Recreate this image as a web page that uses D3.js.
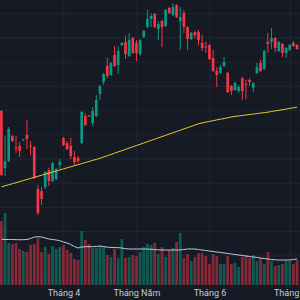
<!DOCTYPE html>
<html>
<head>
<meta charset="utf-8">
<script src="https://cdn.jsdelivr.net/npm/d3@7"></script>
<style>
  html, body { margin: 0; padding: 0; background: #161a25; }
  svg { display: block; }
  .grid line { stroke: #222632; stroke-width: 1; }
  .grid path { display: none; }
</style>
</head>
<body>
<div id="chart"></div>
<script>
// daily bars, left to right
const opens = [18.9, 13.2, 13.9, 16.4, 15.25, 15.4, 15.95, 16.5, 15.45, 15.3,
    11.1, 10.9, 11.3, 13.0, 11.9, 12.1, 13.5, 16.2, 15.7, 15.4,
    14.3, 14.2, 15.7, 18.4, 18.45, 17.7, 18.4, 20.6, 21.8, 23.4,
    22.5, 24.5, 23.5, 25.5, 25.8, 24.4, 26.2, 25.7, 24.6, 26.3,
    27.3, 28.1, 28.6, 27.1, 27.9, 27.4, 29.2, 28.5, 29.5, 27.9,
    28.7, 27.3, 26.1, 26.8, 26.8, 25.7, 25.35, 25.5, 24.2, 22.9,
    22.7, 23.4, 22.7, 21.4, 21.0, 20.9, 22.2, 21.6, 22.0, 21.2,
    22.7, 23.7, 23.1, 25.8, 25.8, 26.2, 24.9, 25.6, 24.7, 25.0,
    25.7, 25.5];
const highs = [19.0, 16.4, 17.3, 16.5, 16.4, 15.8, 16.1, 18.0, 15.9, 15.4,
    11.5, 11.3, 12.9, 13.2, 13.8, 13.2, 14.1, 16.3, 15.9, 16.2,
    14.9, 14.4, 18.9, 18.7, 18.5, 19.3, 20.5, 21.5, 22.7, 24.2,
    23.8, 25.4, 25.4, 25.8, 26.4, 26.7, 26.3, 26.0, 26.1, 27.0,
    29.0, 28.7, 28.7, 27.9, 28.0, 29.1, 29.3, 29.7, 29.6, 29.3,
    29.0, 27.4, 26.8, 26.9, 27.0, 26.5, 25.8, 25.6, 25.0, 23.3,
    23.5, 24.3, 22.8, 21.5, 21.8, 21.5, 22.3, 22.0, 22.2, 21.8,
    23.7, 24.0, 25.0, 26.7, 27.2, 26.3, 25.9, 25.7, 25.3, 25.6,
    25.9, 25.6];
const lows = [12.4, 12.4, 13.8, 15.8, 14.7, 14.3, 15.9, 15.1, 14.5, 12.1,
    8.5, 9.5, 11.1, 11.4, 11.8, 12.0, 13.1, 15.4, 15.0, 14.1,
    13.5, 13.7, 15.6, 17.4, 18.3, 17.4, 18.3, 20.0, 21.5, 22.2,
    22.4, 23.3, 22.6, 25.4, 24.1, 24.3, 24.6, 23.9, 24.4, 26.2,
    27.2, 27.3, 27.2, 26.0, 25.3, 27.3, 28.6, 28.4, 28.2, 25.0,
    26.7, 25.0, 26.0, 26.2, 25.5, 24.9, 24.7, 24.0, 22.8, 21.3,
    22.6, 23.3, 20.7, 20.5, 20.9, 20.7, 20.0, 20.1, 21.4, 20.8,
    22.6, 22.8, 23.0, 24.7, 25.1, 24.8, 24.8, 24.3, 24.2, 24.9,
    25.3, 25.0];
const closes = [12.5, 13.9, 17.1, 15.9, 15.15, 14.9, 16.05, 16.1, 15.35, 12.2,
    8.7, 10.1, 12.8, 11.9, 13.7, 13.1, 13.8, 15.5, 15.1, 14.4,
    13.8, 13.9, 18.8, 17.5, 18.35, 18.9, 20.0, 21.4, 22.6, 22.4,
    23.7, 23.4, 24.9, 25.7, 24.6, 26.0, 24.7, 24.7, 26.0, 26.9,
    28.1, 28.4, 27.3, 27.6, 27.3, 29.0, 28.7, 29.3, 28.3, 28.3,
    27.3, 26.1, 26.7, 26.5, 26.0, 25.2, 25.25, 24.1, 22.9, 22.5,
    23.3, 23.8, 20.8, 20.9, 21.7, 21.3, 20.9, 21.5, 21.8, 21.7,
    23.3, 22.9, 24.9, 25.6, 26.2, 25.2, 25.8, 24.7, 25.2, 25.5,
    25.4, 25.1];
const volumes = [64, 72, 42, 41, 42, 36, 34, 33, 40, 41,
    47, 33, 38, 31, 39, 36, 38, 40, 35, 32,
    26, 25, 54, 45, 41, 37, 37, 39, 39, 30,
    28, 36, 27, 46, 27, 28, 30, 29, 33, 38,
    41, 40, 42, 31, 38, 28, 35, 37, 43, 52,
    27, 31, 24, 28, 32, 32, 29, 21, 31, 29,
    21, 21, 29, 21, 22, 18, 28, 30, 27, 30,
    24, 27, 21, 33, 24, 19, 20, 21, 24, 24,
    21, 25];
// long moving average of price (yellow)
const priceMA = [11.31, 11.42, 11.52, 11.63, 11.73, 11.84, 11.95, 12.05, 12.16, 12.26,
    12.37, 12.48, 12.58, 12.69, 12.79, 12.90, 13.00, 13.11, 13.22, 13.32,
    13.43, 13.53, 13.64, 13.75, 13.85, 13.96, 14.06, 14.17, 14.30, 14.42,
    14.55, 14.68, 14.81, 14.93, 15.06, 15.19, 15.32, 15.45, 15.57, 15.70,
    15.83, 15.96, 16.08, 16.21, 16.34, 16.47, 16.60, 16.72, 16.85, 16.98,
    17.11, 17.23, 17.36, 17.49, 17.62, 17.71, 17.79, 17.86, 17.93, 18.01,
    18.08, 18.15, 18.22, 18.30, 18.36, 18.41, 18.45, 18.50, 18.55, 18.59,
    18.64, 18.69, 18.74, 18.78, 18.85, 18.91, 18.97, 19.03, 19.09, 19.16,
    19.22, 19.28];
// moving average of volume
const volumeMA = [45.8, 45.5, 45.5, 45.5, 45.3, 45.3, 45.3, 45.5, 46.5, 48,
    48.3, 48, 47, 46, 45.5, 45, 44.3, 43, 42, 40.5,
    38.5, 37, 38, 38.3, 38.3, 38.3, 38.5, 39, 38.5, 37.8,
    37.6, 37.5, 37.3, 37, 36.3, 36, 36, 36, 36, 36,
    36, 35.7, 35.5, 35.2, 35, 35, 35, 35, 35, 35,
    35.5, 36, 36, 36, 35.5, 35, 34.5, 34, 33.5, 33,
    32.6, 32, 31.5, 31, 30.5, 30, 29.5, 29, 28.5, 28,
    27.6, 27, 26.5, 26, 25.5, 25.2, 25, 25, 25, 25,
    25.5, 26];
// first bar of each month
const monthTickIdx = [17, 37, 57, 79];
const monthTickLabels = ["Tháng 4", "Tháng Năm", "Tháng 6", "Tháng 7"];
const gridPrices = [28.67, 26.25, 23.83, 21.41, 18.99, 16.57, 14.15, 11.73, 9.31, 6.89, 4.47, 2.05];

const upColor = "#089981";
const downColor = "#f23645";
const width = 300, height = 300;
const plotBottom = 285;
const barStep = 3.65;

let svg = d3.select("#chart").append("svg")
    .attr("width", width)
    .attr("height", height);

svg.append("rect")
    .attr("width", width)
    .attr("height", height)
    .attr("fill", "#161a25");

let x = d3.scaleLinear()
    .domain([0, opens.length - 1])
    .range([1.4, 1.4 + barStep * (opens.length - 1)]);
let y = d3.scaleLinear().domain([1.5, 30]).range([plotBottom, 0]);
let yVol = d3.scaleLinear().domain([0, 100]).range([plotBottom, plotBottom - 100]);

// Horizontal grid.
svg.append("g")
    .attr("class", "grid")
    .call(d3.axisLeft(y).tickValues(gridPrices).tickSize(-width).tickFormat(""));

// Month grid + labels.
let xAxis = svg.append("g")
    .attr("class", "grid")
    .attr("transform", "translate(0," + plotBottom + ")")
    .call(d3.axisBottom(x)
        .tickValues(monthTickIdx)
        .tickSize(-plotBottom)
        .tickPadding(4.5)
        .tickFormat((d, i) => monthTickLabels[i]));
xAxis.selectAll("text")
    .attr("fill", "#c9ccd4")
    .style("font-family", "Roboto, 'Noto Sans', sans-serif")
    .style("font-size", "9px");

let idx = d3.range(opens.length);
let isUp = i => closes[i] >= opens[i];

// Volume.
svg.append("g").selectAll("rect")
    .data(idx)
    .enter().append("rect")
    .attr("x", i => x(i) - 1.4)
    .attr("width", 2.8)
    .attr("y", i => yVol(volumes[i]))
    .attr("height", i => plotBottom - yVol(volumes[i]))
    .attr("fill", i => isUp(i) ? upColor : downColor)
    .attr("fill-opacity", 0.5);

svg.append("path")
    .datum(idx)
    .attr("fill", "none")
    .attr("stroke", "#b4cbe8")
    .attr("stroke-width", 1)
    .attr("d", d3.line().x(i => x(i)).y(i => yVol(volumeMA[i])));

// Candles.
let candles = svg.append("g").selectAll("g")
    .data(idx)
    .enter().append("g");

candles.append("line")
    .attr("x1", i => x(i))
    .attr("x2", i => x(i))
    .attr("y1", i => y(highs[i]))
    .attr("y2", i => y(lows[i]))
    .attr("stroke", i => isUp(i) ? upColor : downColor)
    .attr("stroke-width", 1);

candles.append("rect")
    .attr("x", i => x(i) - 1.35)
    .attr("width", 2.7)
    .attr("y", i => y(Math.max(opens[i], closes[i])))
    .attr("height", i => Math.max(1, Math.abs(y(opens[i]) - y(closes[i]))))
    .attr("fill", i => isUp(i) ? upColor : downColor);

// Price MA.
svg.append("path")
    .datum(idx)
    .attr("fill", "none")
    .attr("stroke", "#e2cc2f")
    .attr("stroke-width", 1)
    .attr("d", d3.line().x(i => x(i)).y(i => y(priceMA[i])));
</script>
</body>
</html>
